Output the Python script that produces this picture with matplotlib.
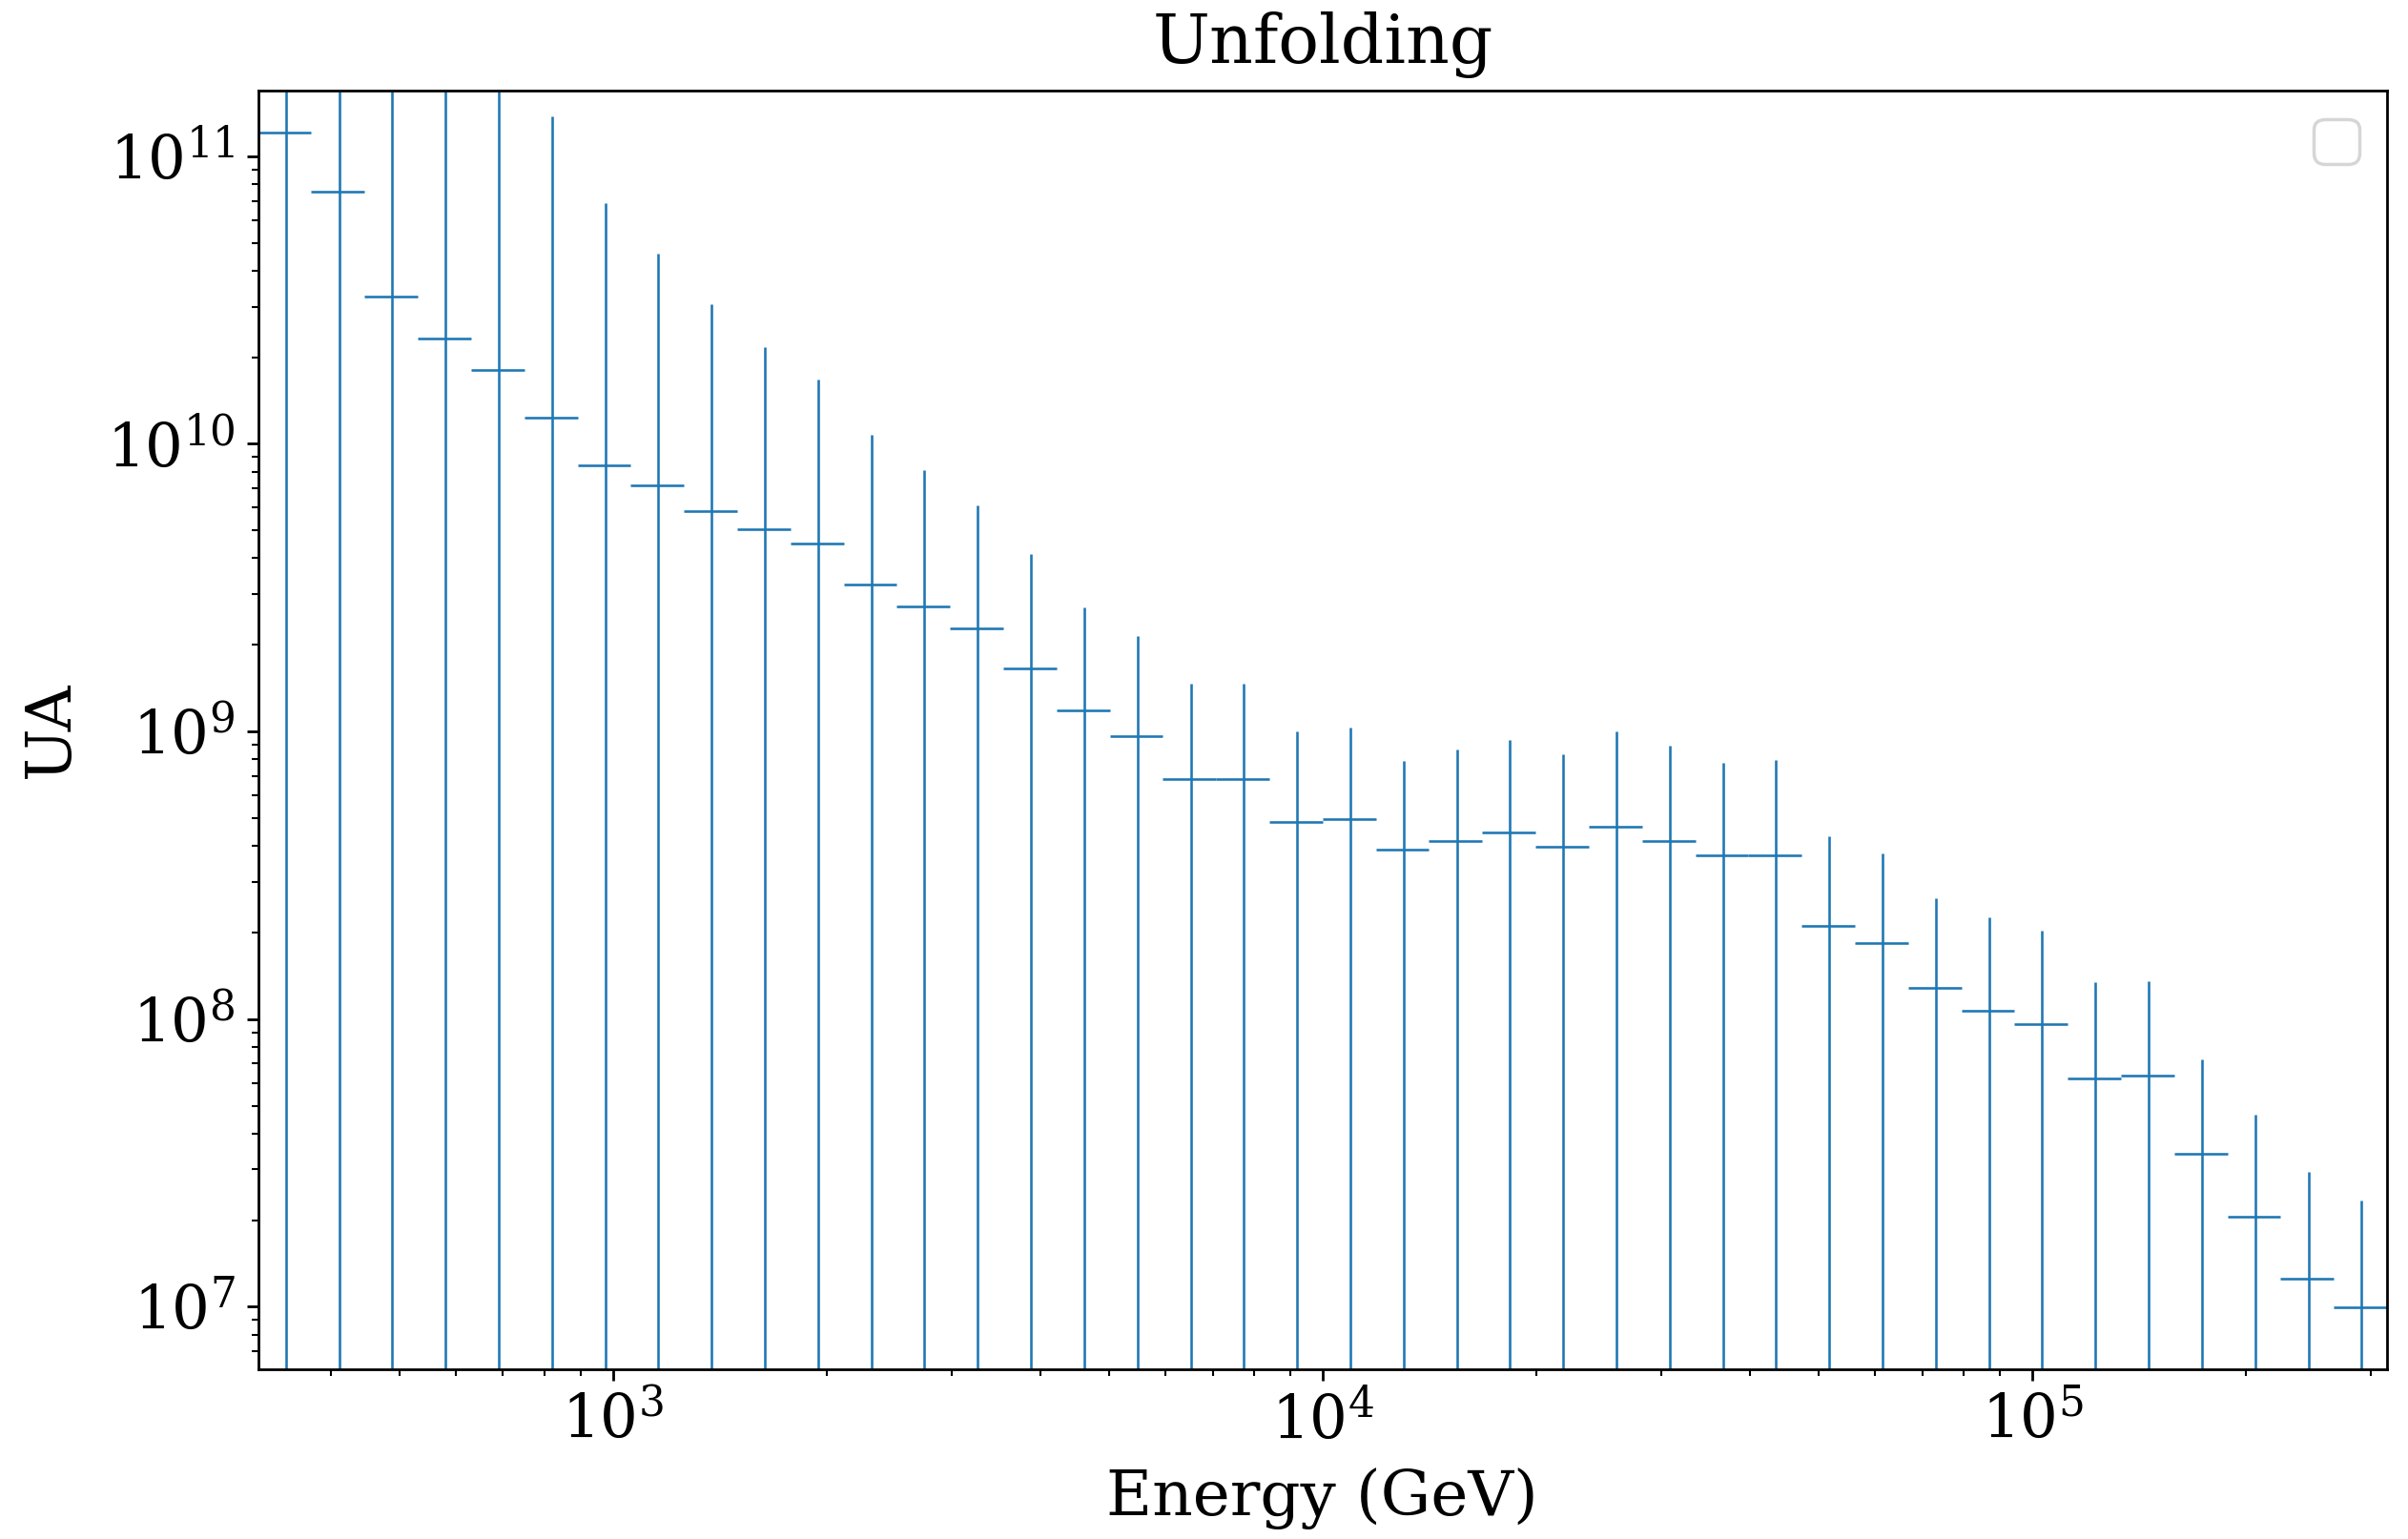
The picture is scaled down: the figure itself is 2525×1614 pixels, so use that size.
import matplotlib
matplotlib.use("Agg")
import matplotlib.pyplot as plt
import numpy as np

plt.rcParams['font.family'] = ['DejaVu Serif']
plt.rcParams['mathtext.fontset'] = 'dejavuserif'
plt.rcParams['font.size'] = 17

# 40 log-spaced energy bins (GeV)
bin_edges = np.logspace(2.5, 5.5, 41)

flux = [1.21e11, 7.52e10, 3.26e10, 2.32e10, 1.81e10, 1.234e10, 8.41e9, 7.17e9,
        5.85e9, 5.03e9, 4.49e9, 3.25e9, 2.71e9, 2.28e9, 1.65e9, 1.18e9,
        9.64e8, 6.84e8, 6.84e8, 4.86e8, 4.97e8, 3.89e8, 4.16e8, 4.45e8,
        3.97e8, 4.67e8, 4.16e8, 3.72e8, 3.72e8, 2.11e8, 1.84e8, 1.284e8,
        1.072e8, 9.57e7, 6.22e7, 6.36e7, 3.40e7, 2.05e7, 1.25e7, 9.95e6]

flux_err = [4.0e11, 3.0e11, 2.2e11, 1.9e11, 1.7e11, 1.257e11, 6.03e10, 3.86e10,
            2.47e10, 1.66e10, 1.22e10, 7.5e9, 5.39e9, 3.83e9, 2.5e9, 1.52e9,
            1.18e9, 7.86e8, 7.86e8, 5.14e8, 5.33e8, 4.01e8, 4.52e8, 4.89e8,
            4.37e8, 5.33e8, 4.75e8, 4.07e8, 4.23e8, 2.21e8, 1.94e8, 1.34e8,
            1.18e8, 1.08e8, 7.2e7, 7.2e7, 3.83e7, 2.59e7, 1.70e7, 1.35e7]

energy = (bin_edges[1:] + bin_edges[:-1]) / 2
energy_err = (bin_edges[1:] - bin_edges[:-1]) / 2

fig, ax = plt.subplots(figsize=(10.1, 6.456), dpi=250)
fig.subplots_adjust(left=0.1072, right=0.9913, top=0.9411, bottom=0.1103)

ax.errorbar(energy, flux, xerr=energy_err, yerr=flux_err, fmt='none', elinewidth=0.75)
ax.set_xscale('log')
ax.set_yscale('log')
ax.set_xlim(bin_edges[0], bin_edges[-1])
ax.set_ylim(6.06e6, 1.69e11)
ax.tick_params(axis='both', which='major', labelsize=18)

ax.set_title("Unfolding", fontsize=20.5, pad=8.5)
ax.set_xlabel("Energy (GeV)", fontsize=19, labelpad=5)
ax.set_ylabel("UA", fontsize=19, labelpad=7.5)
ax.legend()

fig.savefig("out.png", dpi=250)
